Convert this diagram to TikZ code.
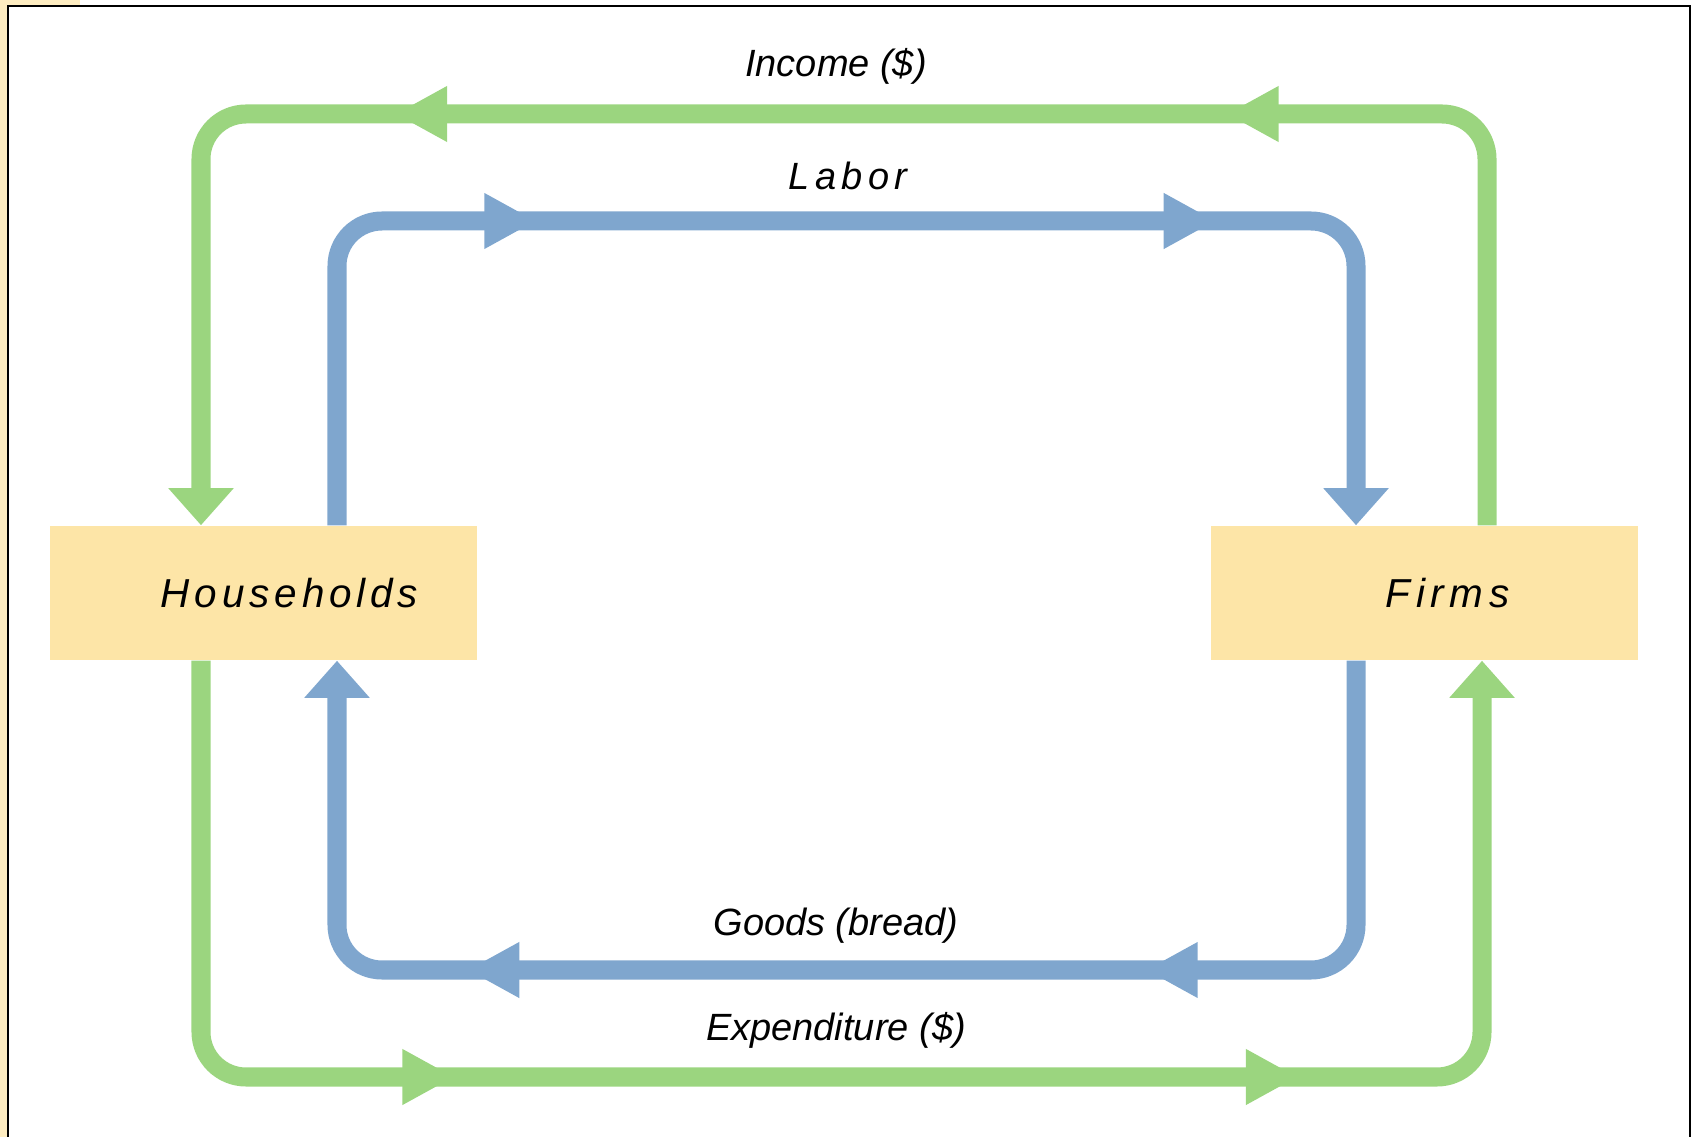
\documentclass[tikz,border=0pt]{standalone}
\usepackage{fontspec}
\setmainfont{Liberation Sans}
\newfontfamily\widefont{Liberation Sans}[LetterSpace=14]
\newfontfamily\boxfont{Liberation Sans}[LetterSpace=12]
\usepackage{tikz}
\usetikzlibrary{arrows.meta, positioning, decorations.markings}
\definecolor{flowgreen}{RGB}{155, 213, 127}
\definecolor{flowblue}{RGB}{127, 166, 206}
\definecolor{boxyellow}{RGB}{253, 229, 167}

\begin{document}
\begin{tikzpicture}[
    x=0.01cm, y=-0.01cm,
    box/.style={rectangle, fill=boxyellow, minimum width=4.27cm, minimum height=1.34cm, inner sep=0pt, font=\fontsize{11.5}{14}\selectfont\boxfont\itshape},
    lbl/.style={anchor=base, font=\fontsize{10.8}{13}\selectfont\itshape},
    lblwide/.style={lbl, font=\fontsize{10.8}{13}\selectfont\widefont\itshape},
    flow/.style={line width=0.19cm, rounded corners=0.45cm, -{Triangle[length=0.37cm, width=0.63cm]}},
    midarrows/.style 2 args={postaction={decorate, decoration={markings,
        mark=at position #1 with {\arrow{Triangle[length=0.52cm, width=0.52cm]}},
        mark=at position #2 with {\arrow{Triangle[length=0.52cm, width=0.52cm]}}}}}
]
    \useasboundingbox (0,0) rectangle (1694,1137);

    % Slide frame
    \fill[boxyellow!70] (0,0) rectangle (7,1137);
    \fill[boxyellow!70] (7,0) rectangle (80,5);
    \draw[line width=0.025cm] (8,1137) -- (8,6) -- (1690,6) -- (1690,1137);

    % Households and Firms
    \node[box] (hh) at (263.5,593) {\hspace*{0.52cm}Households};
    \node[box, right=7.32cm of hh, font=\fontsize{11.5}{14}\selectfont\widefont\itshape] (fm) {\hspace*{0.46cm}Firms};

    % Corners of the loops
    \coordinate (incR) at (1487,114);
    \coordinate (incL) at (201,114);
    \coordinate (labL) at (337,221);
    \coordinate (labR) at (1356,221);
    \coordinate (gdsR) at (1356,970);
    \coordinate (gdsL) at (337,970);
    \coordinate (expL) at (201,1077);
    \coordinate (expR) at (1482,1077);

    % Flows
    \draw[flow, flowgreen, midarrows={6.52cm}{14.83cm}] (fm.north -| incR) -- (incR) -- (incL) -- (hh.north -| incL);
    \draw[flow, flowblue, midarrows={4.84cm}{11.63cm}] (hh.north -| labL) -- (labL) -- (labR) -- (fm.north -| labR);
    \draw[flow, flowblue, midarrows={5.00cm}{11.78cm}] (fm.south -| gdsR) -- (gdsR) -- (gdsL) -- (hh.south -| gdsL);
    \draw[flow, flowgreen, midarrows={6.50cm}{14.93cm}] (hh.south -| expL) -- (expL) -- (expR) -- (fm.south -| expR);

    % Labels
    \node[lbl] (inc) at (836,77) {Income (\$)};
    \node[lblwide] (lab) at (848,190) {Labor};
    \node[lbl] (gds) at (836,935) {Goods (bread)};
    \node[lbl] (exp) at (836,1040) {Expenditure (\$)};
\end{tikzpicture}
\end{document}
